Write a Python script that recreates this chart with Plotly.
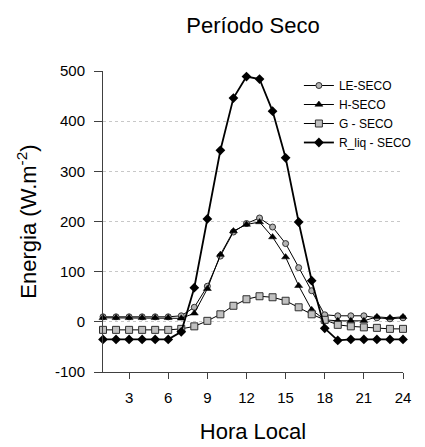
import plotly.graph_objects as go

hours = list(range(1, 25))
le_seco = [10, 10, 10, 10, 10, 10, 12, 29, 71, 131, 179, 196, 207, 189, 156, 108, 62, 14, 12, 12, 12, 8, 6, 8]
h_seco = [8, 8, 8, 8, 8, 8, 7, 17, 66, 134, 181, 194, 199, 169, 129, 72, 24, 4, 2, 2, 2, 10, 8, 10]
g_seco = [-16, -16, -16, -16, -16, -16, -14, -9, 2, 15, 32, 45, 51, 49, 42, 29, 15, 4, -6, -9, -11, -12, -14, -14]
rliq_seco = [-35, -35, -35, -35, -35, -35, -20, 68, 205, 342, 446, 489, 484, 420, 327, 199, 82, -13, -37, -35, -35, -35, -35, -35]

x_ticks = [3, 6, 9, 12, 15, 18, 21, 24]
y_ticks = [-100, 0, 100, 200, 300, 400, 500]

fig = go.Figure()
fig.add_trace(go.Scatter(x=hours, y=le_seco, name="LE-SECO", mode="lines+markers",
                         line=dict(color="black", width=1),
                         marker=dict(symbol="circle", size=6, color="#b4b4b4", line=dict(color="#303030", width=1)),
                         cliponaxis=False))
fig.add_trace(go.Scatter(x=hours, y=h_seco, name="H-SECO", mode="lines+markers",
                         line=dict(color="black", width=1),
                         marker=dict(symbol="triangle-up", size=7, color="black", line=dict(color="black", width=0.5)),
                         cliponaxis=False))
fig.add_trace(go.Scatter(x=hours, y=g_seco, name="G - SECO", mode="lines+markers",
                         line=dict(color="black", width=1),
                         marker=dict(symbol="square", size=7, color="#c0c0c0", line=dict(color="#303030", width=1)),
                         cliponaxis=False))
fig.add_trace(go.Scatter(x=hours, y=rliq_seco, name="R_liq - SECO", mode="lines+markers",
                         line=dict(color="black", width=1.8),
                         marker=dict(symbol="diamond", size=7.5, color="black"),
                         cliponaxis=False))

fig.update_layout(
    width=417, height=439,
    margin=dict(l=95, r=8, t=63, b=69),
    paper_bgcolor="white", plot_bgcolor="white",
    font=dict(family="Arial, Liberation Sans, sans-serif", color="black", size=15),
    title=dict(text="Período Seco", x=0.5, xref="paper", y=0.961, yref="container", yanchor="middle",
               font=dict(size=22, color="black")),
    showlegend=True,
    legend=dict(x=0.653, y=1.0, xanchor="left", yanchor="top", bgcolor="white",
                font=dict(size=12), tracegroupgap=0, itemwidth=30),
)
fig.update_xaxes(range=[1, 24], tickvals=x_ticks, ticktext=[str(v) for v in x_ticks],
                 showline=True, linecolor="#404040", linewidth=1, ticks="outside", ticklen=6,
                 tickcolor="#404040", showgrid=False, zeroline=False, ticklabelstandoff=6,
                 title=dict(text="Hora Local", font=dict(size=22), standoff=18),
                 tickfont=dict(size=15))
fig.update_yaxes(range=[-100, 500], tickvals=y_ticks, ticktext=[str(v) for v in y_ticks],
                 showline=True, linecolor="#404040", linewidth=1, ticks="outside", ticklen=8,
                 tickcolor="#404040", showgrid=True, gridcolor="#c8c8c8", griddash="dot", gridwidth=1,
                 zeroline=False, ticklabelstandoff=6,
                 title=dict(text="Energia (W.m<sup>-2</sup>)", font=dict(size=22), standoff=12),
                 tickfont=dict(size=15))

fig.write_html("out.html")
